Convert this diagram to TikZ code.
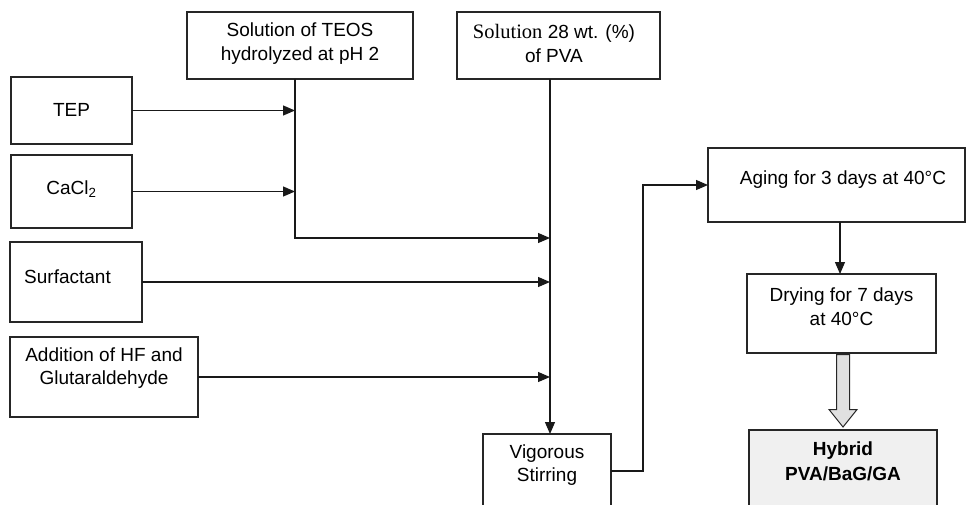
\documentclass[tikz,border=0pt]{standalone}
\usepackage{fontspec}
\setmainfont{Liberation Sans}
\newfontfamily\serifpart{Liberation Serif}
\usetikzlibrary{arrows.meta,calc}
\tikzset{
  box/.style={draw=black!85, line width=1.1pt, rectangle, inner sep=0pt, outer sep=0pt},
  txt/.style={font=\fontsize{19}{23.5}\selectfont, align=center, inner sep=0pt},
  arr/.style={line width=1.2pt, draw=black!90, -{Triangle[length=12pt,width=10pt]}},
}
\begin{document}
\begin{tikzpicture}[x=1pt,y=-1pt]
\useasboundingbox (0,0) rectangle (966,504);
\clip (0,0) rectangle (966,504);
% boxes
\node[box, minimum width=226pt, minimum height=67pt] (teos) at (300,45.5) {};
\node[box, minimum width=203pt, minimum height=67pt] (pva) at (558.5,45.5) {};
\node[box, minimum width=121pt, minimum height=67pt] (tep) at (71.5,110.5) {};
\node[box, minimum width=121pt, minimum height=73pt] (cacl) at (71.5,191.5) {};
\node[box, minimum width=132pt, minimum height=80pt] (surf) at (76,282) {};
\node[box, minimum width=188pt, minimum height=80pt] (add) at (104,377) {};
\node[box, minimum width=128pt, minimum height=74pt] (vig) at (547,471) {};
\node[box, minimum width=257pt, minimum height=74pt] (aging) at (836.5,185) {};
\node[box, minimum width=189pt, minimum height=79pt] (dry) at (841.5,313.5) {};
\node[box, fill=black!6, minimum width=188pt, minimum height=80pt] (hyb) at (843,470) {};
% texts
\node[txt] (teosT) at (300,43.5) {Solution of TEOS\\hydrolyzed at pH 2};
\node[txt] (pvaT) at (554,43.5) {{\serifpart\fontsize{20.5}{23.5}\selectfont Solution} 28 wt. (\%)\\of PVA};
\node[txt] (tepT) at (71.5,110) {TEP};
\node[txt] (caclT) at (71.5,189) {CaCl\textsubscript{2}};
\node[txt, anchor=west] (surfT) at (24,277) {Surfactant};
\node[txt] (addT) at (104,368) {Addition of HF and\\Glutaraldehyde};
\node[txt] (vigT) at (547,465) {Vigorous\\Stirring};
\node[txt] (agingT) at (843,180) {Aging for 3 days at 40°C};
\node[txt] (dryT) at (841.5,306.5) {Drying for 7 days\\at 40°C};
\node[txt, font=\fontsize{19}{25}\selectfont\bfseries] (hybT) at (843,461) {Hybrid\\PVA/BaG/GA};
% junction coordinates
\coordinate (tx) at (295,0);
\coordinate (px) at (550,0);
\coordinate (pj1) at (550,238);
\coordinate (bx) at (643,0);
\coordinate (ax) at (840,0);
% connectors
\draw[arr] (tep.east) -- (tep.east -| tx);
\draw[arr] (cacl.east) -- (cacl.east -| tx);
\draw[arr] (teos.south -| tx) |- (pj1);
\draw[arr] (surf.east) -- (surf.east -| px);
\draw[arr] (add.east) -- (add.east -| px);
\draw[arr] (pva.south -| px) -- (vig.north -| px);
\draw[arr] (vig.east) -| (bx |- aging.west) -- (aging.west);
\draw[arr] (aging.south -| ax) -- (dry.north -| ax);
% block arrow
\draw[line width=1pt, draw=black!85, fill=black!12]
  ($(dry.south -| hyb)+(-6.5,1.5)$) -- ++(0,55) -- ++(-7.5,0) -- ($(hyb.north)+(0,-3)$)
  -- ($(dry.south -| hyb)+(14,56.5)$) -- ++(-7.5,0) -- ++(0,-55) -- cycle;
\end{tikzpicture}
\end{document}
